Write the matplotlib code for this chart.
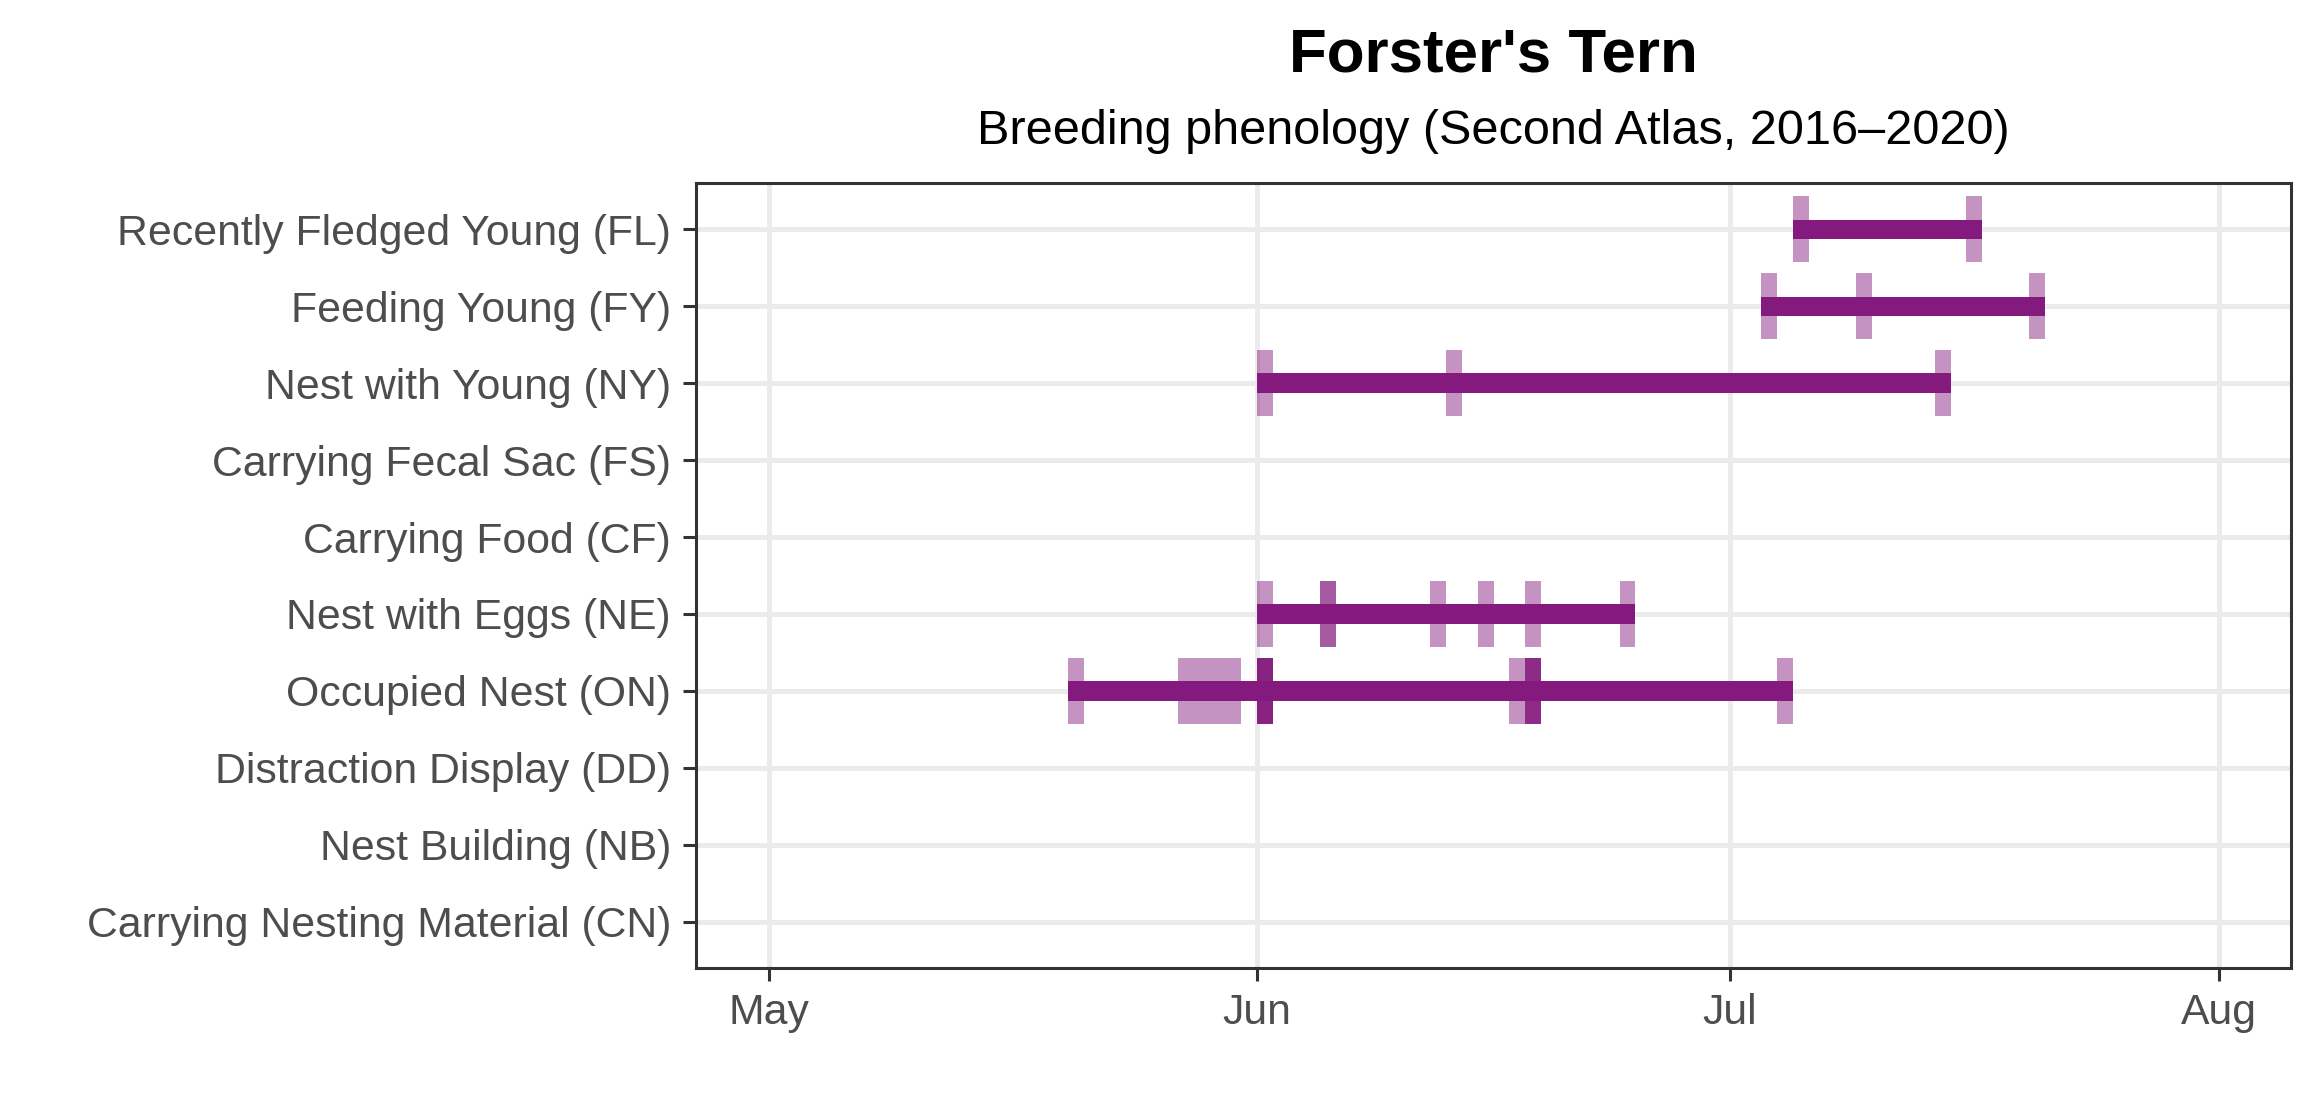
import pandas as pd
import matplotlib.pyplot as plt

# === Breeding codes (bottom to top) ===
codes = ["Carrying Nesting Material (CN)", "Nest Building (NB)", "Distraction Display (DD)",
         "Occupied Nest (ON)", "Nest with Eggs (NE)", "Carrying Food (CF)",
         "Carrying Fecal Sac (FS)", "Nest with Young (NY)", "Feeding Young (FY)",
         "Recently Fledged Young (FL)"]

# === Observation dates per code (repeated dates = several records) ===
obs_on = ["05-20", "05-27", "05-28", "05-29", "05-30",
          "06-01", "06-01", "06-01", "06-01", "06-01",
          "06-17", "06-18", "06-18", "06-18", "06-18", "07-04"]
obs_ne = ["06-01", "06-05", "06-05", "06-12", "06-15", "06-18", "06-24"]
obs_ny = ["06-01", "06-13", "07-14"]
obs_fy = ["07-03", "07-09", "07-20"]
obs_fl = ["07-05", "07-16"]

month_ticks = ["05-01", "06-01", "07-01", "08-01"]
month_labels = ["May", "Jun", "Jul", "Aug"]

observations = {
    "Occupied Nest (ON)": obs_on,
    "Nest with Eggs (NE)": obs_ne,
    "Nest with Young (NY)": obs_ny,
    "Feeding Young (FY)": obs_fy,
    "Recently Fledged Young (FL)": obs_fl,
}


def doy(md):
    return pd.Timestamp("2019-" + md).dayofyear


purple = "#841A7D"

plt.rcParams['font.family'] = ['Liberation Sans', 'DejaVu Sans']
fig = plt.figure(figsize=(11.6, 5.6), dpi=200)
ax = fig.add_axes([0.300, 0.1357, 0.6875, 0.7009])

for code, dates in observations.items():
    y = codes.index(code) + 1
    days = [doy(d) for d in dates]
    lo, hi = min(days), max(days) + 1
    ax.barh(y, hi - lo, left=lo, height=0.25, color=purple, zorder=3)
    ax.bar(days, 0.86, width=1, bottom=y - 0.43, align='edge',
           color=purple, alpha=0.47, linewidth=0, zorder=4)

xt = [doy(d) for d in month_ticks]
ax.set_xticks(xt)
ax.set_xticklabels(month_labels)
span = xt[-1] - xt[0]
ax.set_xlim(xt[0] - 0.05 * span, xt[-1] + 0.05 * span)

ax.set_yticks(range(1, len(codes) + 1))
ax.set_yticklabels(codes)
ax.set_ylim(0.4, len(codes) + 0.6)

ax.grid(True, color="#EBEBEB", linewidth=1.8, zorder=0)
ax.set_axisbelow(True)
for s in ax.spines.values():
    s.set_color("#333333")
    s.set_linewidth(1.1)
ax.tick_params(axis='both', colors="#333333", width=1.1, length=4.6,
               labelsize=15.4, labelcolor="#4D4D4D", pad=4.4)

cx = (0.300 + 0.300 + 0.6875) / 2
fig.text(cx, 1 - 72 / 1120, "Forster's Tern", ha='center', va='baseline',
         fontsize=22.3, fontweight='bold')
fig.text(cx, 1 - 144 / 1120, "Breeding phenology (Second Atlas, 2016\u20132020)",
         ha='center', va='baseline', fontsize=17.5)

plt.savefig("out.png", dpi=200)
